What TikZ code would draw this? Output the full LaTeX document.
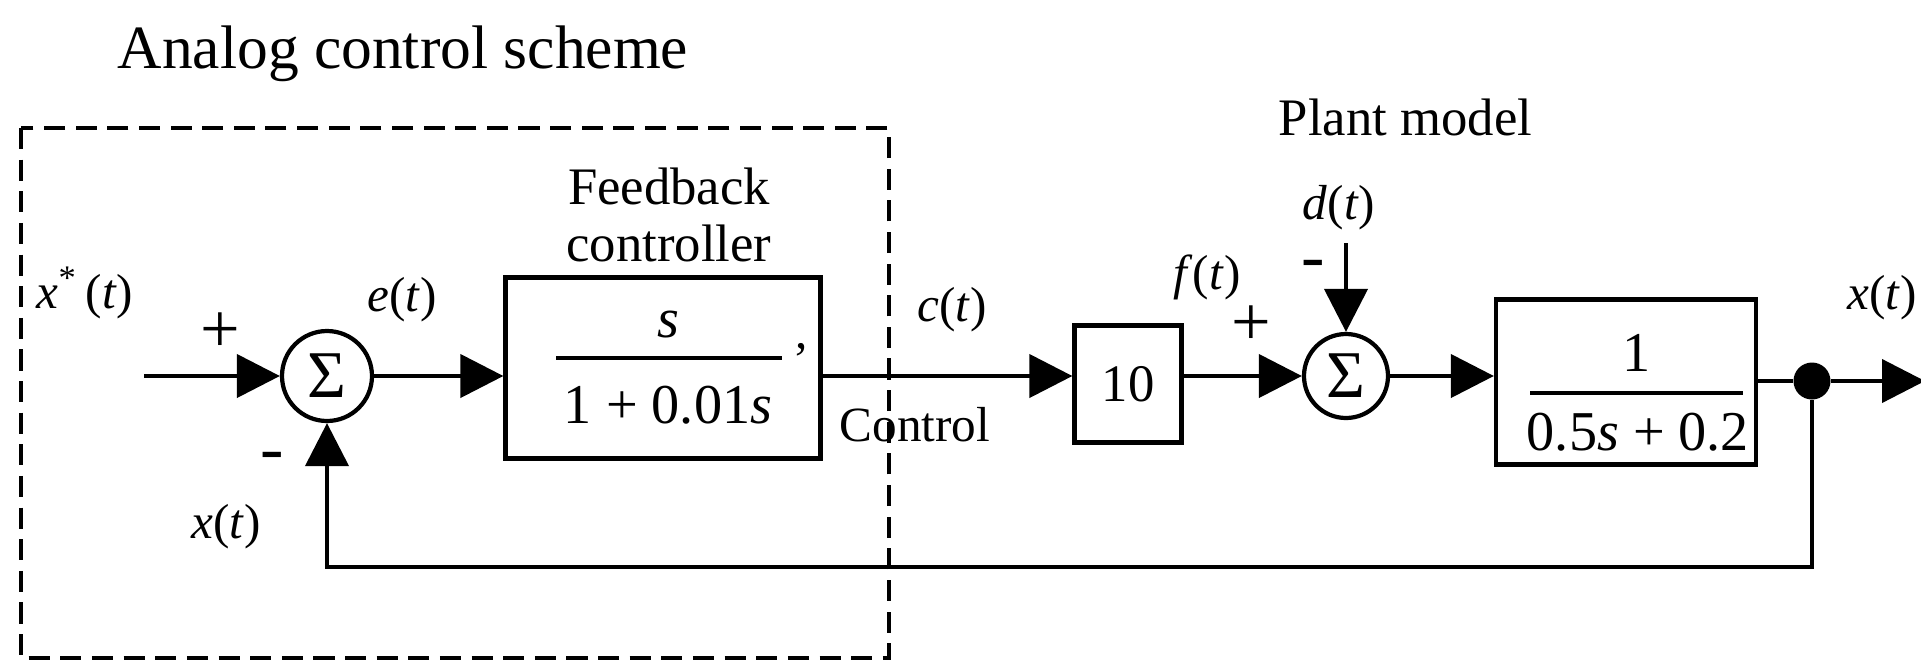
\documentclass[tikz,border=0pt]{standalone}
\usepackage{fontspec}
\setmainfont{Liberation Serif}
\usetikzlibrary{arrows.meta,calc,positioning}
\tikzset{
    block/.style = {draw, rectangle, line width=1.2pt, inner sep=0pt},
    sum/.style = {draw, circle, line width=1.2pt, inner sep=0pt,
        font=\fontsize{19}{19}\selectfont},
    input/.style = {coordinate},
    output/.style = {coordinate},
    wire/.style = {line width=1.2pt},
    sign/.style = {inner sep=0pt, font=\fontsize{20}{20}\selectfont},
    sig/.style = {inner sep=0pt, font=\fontsize{14}{14}\selectfont},
    caption/.style = {inner sep=0pt, align=center, font=\fontsize{15}{16}\selectfont},
    frac/.style = {inner sep=0pt, font=\fontsize{16}{16}\selectfont},
}
\newcommand{\sigt}[1]{\textit{#1}(\textit{t})}

\begin{document}
\begin{tikzpicture}[>={Triangle[length=4.3mm,width=4.3mm]}]
		\useasboundingbox (0,0) rectangle (19.21,-6.60);
		% title and dashed controller region
		\node [caption, anchor=base west, font=\fontsize{17.5}{18}\selectfont] (title) at (1.17,-0.68) {Analog control scheme};
		\draw [line width=1pt, dash pattern=on 6pt off 3pt] (0.21,-1.28) rectangle (8.89,-6.58);
		
		% Starting input xref
		\coordinate (xref) at (1.44,-3.76);
		\node [sig] (xreflab) at (0.85,-2.93) {\textit{x}\textsuperscript{*}\,(\textit{t})};
		% sum 1
		\node [sum, minimum size=0.90cm] (sum1) at (3.27,-3.76) {Σ};
		\node [sign] (plus1) at (2.20,-3.33) {+};
		\node [sign] (minus1) at (2.72,-4.62) {-};
		\node [sig] (elab) at (4.02,-3.00) {\sigt{e}};
		\node [sig] (xfblab) at (2.26,-5.27) {\sigt{x}};
		
		% Feedback controller block
		\node [block, minimum width=3.15cm, minimum height=1.81cm] (ctrl) at (6.63,-3.68) {};
		\node [caption] (ctrlcap) at (6.69,-2.15) {Feedback\\controller};
		\node [frac] (ctrlnum) at (6.68,-3.25) {\textit{s}};
		\draw [line width=1.2pt] (5.56,-3.58) -- (7.82,-3.58);
		\node [frac] (ctrlden) at (6.68,-4.05) {1 + 0.01\textit{s}};
		\node [sig] (comma) at (8.02,-3.50) {,};
		
		% control signal labels
		\node [sig] (clab) at (9.52,-3.10) {\sigt{c}};
		\node [sig] (ctrllab) at (9.15,-4.25) {Control};
		
		% gain block
		\node [block, minimum width=1.07cm, minimum height=1.17cm, font=\fontsize{15}{15}\selectfont] (gain) at (11.28,-3.84) {10};
		\node [sig] (flab) at (12.07,-2.77) {\sigt{f}};
		\node [sign] (plus2) at (12.51,-3.26) {+};
		
		% sum 2 with disturbance
		\node [sum, minimum size=0.84cm] (sum2) at (13.46,-3.76) {Σ};
		\coordinate (dist) at (13.46,-2.43);
		\node [sig] (dlab) at (13.39,-2.08) {\sigt{d}};
		\node [sign] (minus2) at (13.13,-2.70) {-};
		\node [caption, anchor=base west] (plantcap) at (12.78,-1.35) {Plant model};
		
		% Plant block
		\node [block, minimum width=2.60cm, minimum height=1.65cm] (plant) at (16.26,-3.82) {};
		\node [frac] (plantnum) at (16.37,-3.53) {1};
		\draw [line width=1.2pt] (15.30,-3.93) -- (17.43,-3.93);
		\node [frac] (plantden) at (16.38,-4.32) {0.5\textit{s} + 0.2};
		
		% output and pick-off point
		\node [circle, fill, inner sep=0pt, minimum size=0.37cm] (tap) at (18.12,-3.81) {};
		\coordinate (xout) at (19.25,-3.81);
		\node [sig, anchor=west] (xoutlab) at (18.47,-2.98) {\sigt{x}};
		\coordinate (fbcorner) at (18.12,-5.67);
		
		% connecting lines
		\draw [wire,->] (xref) -- (sum1);
		\draw [wire,->] (sum1) -- (sum1 -| ctrl.west);
		\draw [wire,->] (ctrl.east |- sum1) -- (sum1 -| gain.west);
		\draw [wire,->] (gain.east |- sum2) -- (sum2);
		\draw [wire,->] (dist) -- (sum2);
		\draw [wire,->] (sum2) -- (sum2 -| plant.west);
		\draw [wire] (plant.east |- tap) -- (tap);
		\draw [wire,->] (tap) -- (xout);
		\draw [wire,->] (tap) -- (fbcorner) -| (sum1);
	\end{tikzpicture}
\end{document}
